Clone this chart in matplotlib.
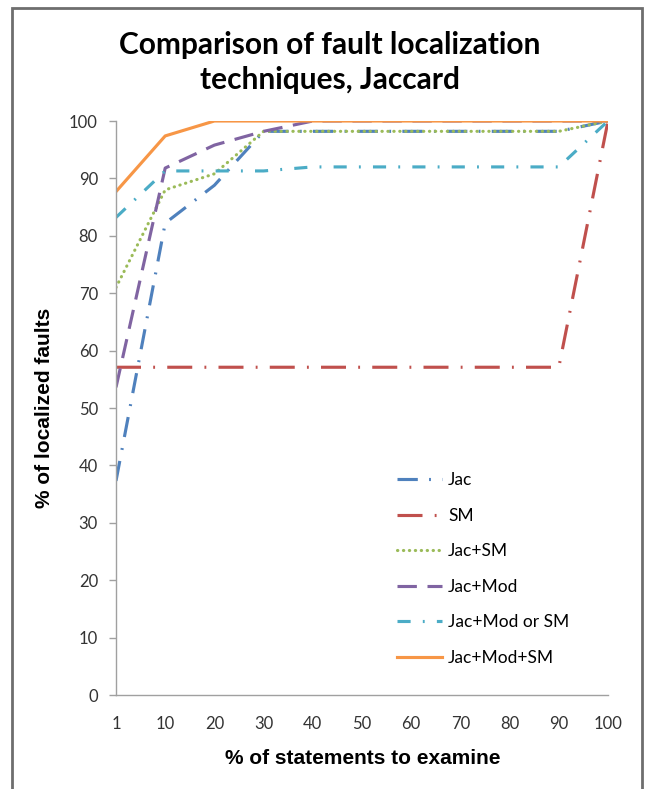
import matplotlib
matplotlib.use("Agg")
import matplotlib.pyplot as plt
from matplotlib.patches import Rectangle

categories = ["1", "10", "20", "30", "40", "50", "60", "70", "80", "90", "100"]
series_names = ["Jac", "SM", "Jac+SM", "Jac+Mod", "Jac+Mod or SM", "Jac+Mod+SM"]
jac = [37.3, 82.2, 88.8, 98.2, 98.2, 98.2, 98.2, 98.2, 98.2, 98.2, 100]
sm = [57.1, 57.1, 57.1, 57.1, 57.1, 57.1, 57.1, 57.1, 57.1, 57.1, 100]
jac_sm = [71.0, 88.0, 90.8, 98.2, 98.2, 98.2, 98.2, 98.2, 98.2, 98.2, 100]
jac_mod = [53.6, 91.8, 95.8, 98.2, 100, 100, 100, 100, 100, 100, 100]
jac_mod_or_sm = [83.2, 91.3, 91.3, 91.3, 92.0, 92.0, 92.0, 92.0, 92.0, 92.0, 100]
jac_mod_sm = [87.7, 97.4, 100, 100, 100, 100, 100, 100, 100, 100, 100]
y_ticks = [0, 10, 20, 30, 40, 50, 60, 70, 80, 90, 100]

W, H = 647, 789
fig = plt.figure(figsize=(W / 100, H / 100), dpi=100)
fig.patch.set_facecolor("white")
fig.add_artist(Rectangle((12 / W, -0.02), (642 - 12) / W, (789 - 8) / H + 0.02,
                         transform=fig.transFigure, fill=False,
                         edgecolor="#6e6e6e", linewidth=2.0))

ax = fig.add_axes([116 / W, 1 - 695 / H, (608 - 116) / W, (695 - 121) / H])
x = list(range(len(categories)))
lw = 2.25
styles = [
    dict(color="#4F81BD", dashes=(6.5, 3.6, 0.6, 3.6)),
    dict(color="#C0504D", dashes=(8, 3.9, 0.6, 3.9)),
    dict(color="#9BBB59", dashes=(0.1, 1.8), dash_capstyle="round"),
    dict(color="#8064A2", dashes=(6.2, 3.4)),
    dict(color="#4BACC6", dashes=(4.2, 3.9, 0.6, 3.9)),
    dict(color="#F79646"),
]
all_series = [jac, sm, jac_sm, jac_mod, jac_mod_or_sm, jac_mod_sm]
for name, vals, st in zip(series_names, all_series, styles):
    ax.plot(x, vals, label=name, linewidth=lw, **st)

ax.set_xlim(0, len(categories) - 1)
ax.set_ylim(0, 100)
ax.set_xticks(x)
ax.set_xticklabels(categories)
ax.set_yticks(y_ticks)
for s in ["top", "right"]:
    ax.spines[s].set_visible(False)
for s in ["left", "bottom"]:
    ax.spines[s].set_color("#a0a0a0")
    ax.spines[s].set_linewidth(1.0)
ax.tick_params(axis="x", length=0, pad=15, labelsize=12, labelcolor="#333333")
ax.tick_params(axis="y", length=5, width=1.0, color="#a0a0a0", pad=8,
               labelsize=12, labelcolor="#333333")
for lab in ax.get_xticklabels() + ax.get_yticklabels():
    lab.set_fontfamily("Lato")

fig.text(0.51, 1 - 45 / H, "Comparison of fault localization", ha="center", va="center",
         fontsize=21.5, fontweight="bold", family="Lato")
fig.text(0.51, 1 - 80 / H, "techniques, Jaccard", ha="center", va="center",
         fontsize=21.5, fontweight="bold", family="Lato")
fig.text(363 / W, 1 - 758 / H, "% of statements to examine", ha="center", va="center",
         fontsize=15, fontweight="bold", family="Liberation Sans")
fig.text(45 / W, 1 - 408 / H, "% of localized faults", ha="center", va="center",
         rotation=90, fontsize=15, fontweight="bold", family="Liberation Sans")

leg = fig.legend(loc="upper left", bbox_to_anchor=(397 / W, 1 - 472 / H),
                 frameon=False, prop={"family": "Lato", "size": 12.5},
                 handlelength=2.6, handletextpad=0.35, labelspacing=1.13,
                 borderpad=0, borderaxespad=0)

fig.savefig("out.png", dpi=100)
